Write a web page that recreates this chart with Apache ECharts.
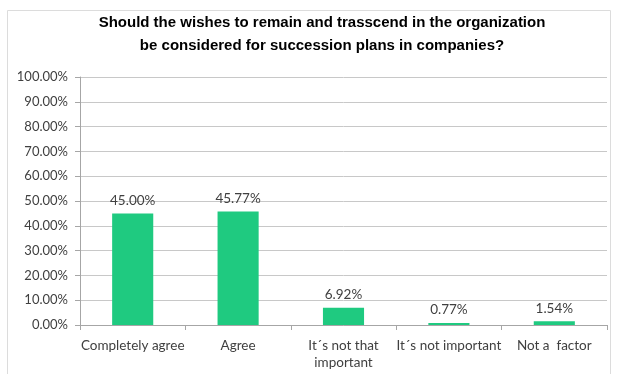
<!DOCTYPE html>
<html>
<head>
<meta charset="utf-8">
<style>
  html, body { margin: 0; padding: 0; background: #ffffff; }
  #chart { width: 618px; height: 374px; }
</style>
<script src="https://cdn.jsdelivr.net/npm/echarts@6/dist/echarts.min.js"></script>
</head>
<body>
<div id="chart"></div>
<script>
// Survey answers and their shares (percent)
const categories = ['Completely agree', 'Agree', 'It\u00b4s not that\nimportant', 'It\u00b4s not important', 'Not a  factor'];
const shares = [45.00, 45.77, 6.92, 0.77, 1.54];
const titleLines = [
  'Should the wishes to remain and trasscend in the organization',
  'be considered for succession plans in companies?'
];

const labelFont = 'Lato, Open Sans, sans-serif';

const chart = echarts.init(document.getElementById('chart'));
chart.setOption({
  animation: false,
  backgroundColor: '#ffffff',
  graphic: [{
    type: 'rect',
    shape: { x: 7.5, y: 10.5, width: 603, height: 370 },
    style: { fill: 'none', stroke: '#dcdcdc', lineWidth: 1 },
    silent: true
  }],
  title: {
    text: titleLines.join('\n'),
    left: 317,
    textAlign: 'center',
    top: 6,
    textStyle: {
      fontFamily: 'Liberation Sans, Arial, sans-serif',
      fontWeight: 'bold',
      fontSize: 15,
      lineHeight: 23,
      color: '#000000'
    }
  },
  grid: { left: 80, right: 11, top: 77, bottom: 49, containLabel: false },
  xAxis: {
    type: 'category',
    data: categories,
    axisLine: { lineStyle: { color: '#a6a6a6' } },
    axisTick: { show: true, alignWithLabel: false, length: 5, lineStyle: { color: '#a6a6a6' } },
    axisLabel: {
      interval: 0,
      margin: 12,
      fontFamily: labelFont,
      fontSize: 13.5,
      lineHeight: 17,
      color: '#404040'
    }
  },
  yAxis: {
    type: 'value',
    min: 0,
    max: 100,
    interval: 10,
    axisLine: { show: true, lineStyle: { color: '#a6a6a6' } },
    axisTick: { show: true, length: 5, lineStyle: { color: '#a6a6a6' } },
    splitLine: { lineStyle: { color: '#c8c8c8' } },
    axisLabel: {
      formatter: v => v.toFixed(2) + '%',
      margin: 12,
      fontFamily: labelFont,
      fontSize: 13,
      color: '#404040'
    }
  },
  series: [{
    type: 'bar',
    data: shares,
    barWidth: '39%',
    itemStyle: { color: '#1fca80' },
    label: {
      show: true,
      position: 'top',
      distance: 6,
      formatter: p => p.value.toFixed(2) + '%',
      fontFamily: labelFont,
      fontSize: 13.5,
      color: '#404040'
    }
  }]
});
</script>
</body>
</html>
